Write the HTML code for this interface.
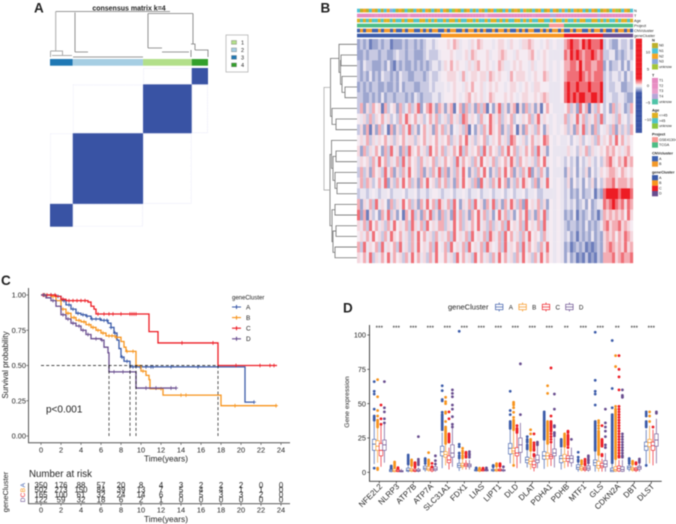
<!DOCTYPE html>
<html>
<head>
<meta charset="utf-8">
<title>Gene cluster analysis figure</title>
<style>
html,body{margin:0;padding:0;background:#fff;}
svg{display:block;font-family:"Liberation Sans",sans-serif;filter:blur(0.4px);}
text{fill:#222;}
</style>
</head>
<body>
<svg id="figure" xmlns="http://www.w3.org/2000/svg" width="676" height="524" viewBox="0 0 676 524">
  <rect width="676" height="524" fill="#fff"/>
  <text x="34" y="12.5" font-size="13.5" font-weight="bold" fill="#000">A</text>
  <text x="320.5" y="12.5" font-size="13.5" font-weight="bold" fill="#000">B</text>
  <text x="1" y="285" font-size="13.5" font-weight="bold" fill="#000">C</text>
  <text x="343" y="312.7" font-size="13.5" font-weight="bold" fill="#000">D</text>

  <g id="panelA">
    <text x="129" y="10.5" font-size="7" font-weight="bold" text-anchor="middle" fill="#333">consensus matrix k=4</text>
    <path fill="none" stroke="#777" stroke-width="0.8" d="M55.7 11.5H170M75 12.5V52M148 13.5H193M148 13.5V48M193 13.5V44M75 52H88M148 48H162M162 52H189M191 44H195V50M195 50H208V57M191 50V57M73 57H143"/>
    <path fill="none" stroke="#aaa" stroke-width="1" d="M55.7 11.5V51M50.5 51H62.5V55.5M50.5 51V57M52 55.5H72"/>
    <g id="consensusBar"></g>
    <g id="consensusCells"></g>
    <g id="consensusLegend"></g>
  </g>

  <g id="panelB">
    <g id="annoRows"></g>
    <g id="heatCells"></g>
    <g id="heatDendro"></g>
    <g id="heatColorbar"></g>
    <g id="heatLegends"></g>
  </g>

  <g id="panelC">
    <g id="kmAxes"></g>
    <g id="kmCurves"></g>
    <g id="kmLegend"></g>
    <text x="46" y="412.5" font-size="10" fill="#222">p&lt;0.001</text>
    <text transform="translate(8,365) rotate(-90)" font-size="8" text-anchor="middle" fill="#222">Survival probability</text>
    <text x="166" y="461.5" font-size="8.3" text-anchor="middle" fill="#222">Time(years)</text>
    <text x="29" y="477" font-size="9.7" fill="#222">Number at risk</text>
    <text transform="translate(8,492) rotate(-90)" font-size="7.5" text-anchor="middle" fill="#222">geneCluster</text>
    <text x="166" y="522" font-size="8.3" text-anchor="middle" fill="#222">Time(years)</text>
    <g id="riskTable"></g>
  </g>

  <g id="panelD">
    <g id="boxAxes"></g>
    <g id="boxMarks"></g>
    <g id="boxLegend"></g>
    <text transform="translate(349,402) rotate(-90)" font-size="6.8" text-anchor="middle" fill="#222">Gene expression</text>
    <text x="448" y="309.5" font-size="7.5" fill="#333">geneCluster</text>
  </g>
</svg>

<script>
/* ---------- shared ---------- */
const clusterNames = ['A', 'B', 'C', 'D'];
const clusterColors = ['#3b5ba9', '#f7941d', '#ed1c24', '#694e8f'];

/* ---------- panel A data ---------- */
const consensusSizes = [144, 445, 308, 103];
const consensusColors = ['#1f78b4', '#a6cee3', '#b2df8a', '#33a02c'];
const consensusLegendOrder = [2, 1, 0, 3];
const consensusLegendLabels = ['1', '2', '3', '4'];

/* ---------- panel B data: one digit per sample, 0 = low, 9 = high ---------- */
const heatRowsA = [
"2323122323312223233232344345","2232333233223433233222343334","3243322232421323223232323443",
"3232423243323243322333234334","2323233223223242333223334344","3322323242332333232432333443",
"3726375617356273473682578627","5463736574635374865746357473","3627162735172637483625746274",
"5647364657463657466365746574","6273647527384627386574638574","4656374857364738475637465736",
"3736275638472637485637263748","4737635748263748573627485637","3443454344534445344534434554",
"7264738465273648573627485738","8271635274836251748362748362","6473857463748564738647385647",
"5647485637486574637485746374","7384657384657384637485647385","6574836475847563748574637485"];
const heatRowsB = [
"556576455465765554566546554667655456","555654456476555645567655465556754565","465756554646755654576445656554645565",
"556665474566566476565547566654565576","454565546575564565655456654565466555","455565456756564576555656545665565676",
"626715727362737152683626716273626157","463746387465374586473657354657368465","736254637152637486572637516274637526",
"657364758463657346574638754635746587","736475837465738475637485736475738462","475638475637485647365748637564637584",
"372637485263748526374857263748263742","473627485637284637485726374865372648","344534454344534453445345344534453344",
"647385264738562748362748637285647362","736284736275847362584736257483627483","736485736475846373647385647385647384",
"647385647385647386473857463748565374","473856473856473865473846573847563748","574638574638574637485746374856374857"];
const heatRowsPale = ["4544","4444","4545","4545","4445","4445","5444","4544","4545","5454","5444","5454","5444","5454","4454","5454","5454","5454","5454","5454","5454"];
const heatRowsC = [
"7898879898889","8798987889878","7788797887788","7888898787888","8988988898889","8989899889989",
"5736284716375","7364847364738","6362748362735","4535463546374","4645364736456","3534253464353",
"2635243625346","3625342536253","3423242334132","3434234252344","2324132342313","3233232423234",
"3423132324232","2312323121232","2423121312132"];
const heatRowsD = [
"3432243342","3344232343","2423342424","3434434243","3433442233","3443344322",
"3527364237","3546374536","4637263637","6574857465","5767564675","6786576867",
"5677657656","6778677767","8999989998","8789878687","7676767586","7867786765",
"6767576876","6787676867","7778678778"];
const colorbarTicks = [10, 5, 0, -5, -10];
const rowTree = [33,
  [26.5, [18, 0, [16.5, [16, 1, 2], [15, 3, [12, 4, 5]]]], [25, 6, [21, 7, 8]]],
  [27, [25.5, 9, [24, [21, 10, 11], [22, 12, [20, 13, 14]]]], [25, [22, 15, 16], [24, [21, 17, 18], [22, 19, 20]]]]];
const annotationNames = ['N', 'T', 'Age', 'Project', 'CNVcluster', 'geneCluster'];
const annotationCodes = [
"102012010123102014012012010212014201021012010214012102012401021021201210120210120102012401201",
"000000100000000002000000000000010000000000020000000000000001000003300000000000000300000000000",
"010101101001011010011001010110100101100101101001010110010101100110100101101001100101011010010",
"00000000000000000000000000000000000000000000000000000000000000001111100000000000000000000000",
"01011001011010010110010101100101100101101010010110100101011001010110100101100101101001011010",
"00000000000000000000000000001111111111111111111111111111111111111111122222222222223333333333"];
const annotationPalette = [
  ['#bdb02a', '#4cc3d9', '#f5a623', '#8aa8dc', '#a4c639'],
  ['#e58ac0', '#e88fc4', '#e8a0cc', '#b7a6d8', '#4fc3a8'],
  ['#e0b020', '#4fc3c8', '#8cc63f'],
  ['#4dbd85', '#f89a96'],
  ['#3f63b0', '#f39a2a'],
  ['#3b5ba9', '#f7941d', '#ed1c24', '#694e8f']];
const heatLegendLabels = [
  ['N0', 'N1', 'N2', 'N3', 'unknow'],
  ['T1', 'T2', 'T3', 'T4', 'unknow'],
  ['<=45', '>45', 'unknow'],
  ['GSE41304', 'TCGA'],
  ['A', 'B'],
  ['A', 'B', 'C', 'D']];
const heatLegendColors = [
  ['#bdb02a', '#4cc3d9', '#f5a623', '#8aa8dc', '#a4c639'],
  ['#e58ac0', '#e88fc4', '#e8a0cc', '#b7a6d8', '#4fc3a8'],
  ['#e0b020', '#4fc3c8', '#8cc63f'],
  ['#f89a96', '#4dbd85'],
  ['#3f63b0', '#f39a2a'],
  ['#3b5ba9', '#f7941d', '#ed1c24', '#694e8f']];

/* ---------- panel C data ---------- */
const kmTimeTicks = [0, 2, 4, 6, 8, 10, 12, 14, 16, 18, 20, 22, 24];
const kmSurvTicks = [0, 0.25, 0.5, 0.75, 1];
const kmSurvTickLabels = ['0.00', '0.25', '0.50', '0.75', '1.00'];
const kmTimesA = [0, 1.5, 2, 2.5, 3, 3.5, 4, 4.5, 5, 6, 6.7, 7, 7.3, 7.6, 7.8, 8, 8.3, 8.9, 20.4, 21.3];
const kmSurvA = [1, 0.99, 0.96, 0.93, 0.9, 0.87, 0.86, 0.85, 0.83, 0.82, 0.8, 0.77, 0.73, 0.68, 0.62, 0.56, 0.53, 0.49, 0.24, 0.24];
const kmTimesB = [0, 1, 1.5, 2, 2.5, 3, 3.5, 4, 4.5, 5, 5.5, 6, 6.5, 7.5, 8, 8.3, 8.5, 9.5, 10, 10.5, 10.8, 10.9, 12.2, 18, 23.6];
const kmSurvB = [1, 0.99, 0.96, 0.9, 0.87, 0.84, 0.82, 0.81, 0.79, 0.77, 0.75, 0.73, 0.71, 0.7, 0.67, 0.63, 0.6, 0.5, 0.46, 0.43, 0.4, 0.335, 0.29, 0.215, 0.215];
const kmTimesC = [0, 1.5, 2, 2.5, 4.7, 5, 5.3, 5.5, 10.8, 11.7, 17.7, 23.6];
const kmSurvC = [1, 0.99, 0.97, 0.96, 0.95, 0.92, 0.9, 0.865, 0.74, 0.66, 0.5, 0.5];
const kmTimesD = [0, 0.5, 1, 1.5, 2, 2.5, 3, 3.5, 4, 4.5, 5, 6, 6.3, 6.7, 6.8, 9.5, 13.5];
const kmSurvD = [1, 0.98, 0.96, 0.92, 0.86, 0.83, 0.8, 0.78, 0.75, 0.72, 0.69, 0.68, 0.63, 0.59, 0.455, 0.34, 0.34];
const kmCensorA = [0.3, 1, 1.7, 2.3, 2.8, 3.2, 3.7, 4.2, 4.6, 5.1, 5.5, 5.9, 6.3, 6.6, 7, 7.4, 8.1, 8.6, 9.2, 9.9, 10.5, 11, 11.2, 13, 15.7, 21.3];
const kmCensorB = [0.4, 1.2, 2.2, 2.7, 3.3, 3.8, 4.3, 4.8, 5.2, 5.7, 6.2, 6.8, 7.1, 7.5, 8.6, 9.2, 10.2, 12, 14, 14.5, 19.4, 23.5];
const kmCensorC = [0.2, 0.6, 1, 1.4, 2.2, 2.8, 3.2, 3.6, 4, 4.4, 5.7, 6.3, 6.8, 7.2, 8, 8.9, 9.1, 9.3, 9.5, 14.1, 17.2, 19.5, 21.9, 22.9, 23.3];
const kmCensorD = [0.3, 1.2, 2.2, 2.7, 3.2, 3.8, 4.2, 4.7, 5.5, 6.1, 7.3, 8.2, 8.9, 10.5, 11.5, 13, 13.5];
const kmMedians = [6.8, 8.9, 9.5, 17.7];
const riskA = [350, 176, 88, 57, 20, 8, 4, 3, 2, 2, 2, 0, 0];
const riskB = [502, 273, 150, 84, 39, 13, 7, 5, 4, 4, 1, 1, 0];
const riskC = [165, 100, 61, 32, 24, 14, 6, 6, 5, 3, 3, 2, 0];
const riskD = [122, 59, 32, 18, 6, 2, 1, 0, 0, 0, 0, 0, 0];

/* ---------- panel D data ---------- */
const geneNames = ['NFE2L2', 'NLRP3', 'ATP7B', 'ATP7A', 'SLC31A1', 'FDX1', 'LIAS', 'LIPT1', 'DLD', 'DLAT', 'PDHA1', 'PDHB', 'MTF1', 'GLS', 'CDKN2A', 'DBT', 'DLST'];
const geneSignificance = ['***', '***', '***', '***', '***', '***', '***', '***', '***', '***', '***', '**', '***', '***', '**', '***', '***'];
const boxTicks = [0, 25, 50, 75, 100];
const boxQ1 = [[16, 16, 12, 16], [0.5, 0.5, 0.5, 0.3], [0.8, 0.8, 0.7, 0.8], [2, 1.5, 1, 1.5], [12, 11, 7, 11], [3.5, 4, 4.5, 4], [1, 0.8, 1, 1], [1, 1, 1, 1], [13.3, 14, 12, 14.5], [7, 6, 3.5, 7], [9.5, 9.7, 10, 12], [7, 8, 8, 7], [2.2, 1.7, 1.5, 1.7], [5, 3, 3.5, 4], [0.5, 1, 1, 0.7], [2.2, 1.5, 1.2, 2.2], [16, 18.7, 16, 19]];
const boxMedian = [[20.5, 19, 16, 20], [1.2, 1.2, 1, 0.8], [1.5, 1.5, 1.2, 1.2], [3, 2.5, 2, 2.5], [15, 13, 9, 14], [5, 5, 5.5, 5], [1.5, 1.3, 1.5, 1.4], [1.5, 1.5, 1.6, 1.3], [17.5, 15.5, 14, 20], [9, 8, 5.5, 9], [12, 12, 11.4, 14], [10, 10, 10, 10], [3.6, 2.7, 2.4, 3], [7, 5, 4.6, 6], [1.5, 2, 2.7, 2], [3.4, 2.4, 2, 3.4], [19, 21.6, 19.4, 23.5]];
const boxQ3 = [[24, 23, 21, 23.5], [2, 2.5, 1.8, 1.2], [3, 2.5, 2.2, 2.2], [4.5, 4, 3, 4], [19, 15, 12, 20], [6.5, 6.5, 6.5, 6], [2, 1.8, 2, 1.9], [2.2, 2.2, 2.4, 1.8], [21, 17.5, 18, 25], [11, 10, 8, 12.5], [15, 14, 12.6, 17], [12, 13, 12, 12], [5.5, 4, 3.4, 4.6], [9, 8, 6.5, 8.5], [3, 4, 4.6, 4], [4.6, 3.4, 3, 4.4], [22, 24, 22, 28]];
const boxLow = [[6, 7, 4, 7], [0, 0, 0, 0], [0, 0, 0, 0], [0.5, 0.5, 0, 0.5], [3, 5, 2, 4], [1, 2, 2, 2], [0.5, 0, 0.5, 0.5], [0.3, 0.3, 0.5, 0.3], [6.5, 5, 3, 6.5], [3.5, 2, 0.7, 3], [2.5, 4, 4.6, 3.5], [2, 3, 4, 4], [0.5, 0.7, 0.5, 0.5], [0.5, 0.5, 0.5, 0.5], [0.5, 0.2, 0.2, 0.2], [0.7, 0.5, 0.2, 0.5], [5, 6.5, 5, 6.5]];
const boxHigh = [[40, 35, 35, 35], [4, 5, 3.5, 2.5], [5.5, 4.5, 3.5, 3.5], [7, 6, 4.5, 6], [29, 21, 18, 32], [10, 10, 9, 9], [2.8, 2.5, 2.5, 2.5], [3.5, 3.5, 3.8, 2.8], [31, 30, 28, 36], [16, 15, 11.5, 19], [23, 20, 21, 25], [17.5, 18.7, 16, 18], [10, 6, 5, 9], [15, 12, 10, 14], [6, 9, 9, 9], [6, 5, 4, 6.5], [31, 34, 31, 39]];
const boxOutliers = [
  [[66, 59, 57, 46, 41, 40, 39, 38, 3], [67.5, 55, 45, 41, 38, 37, 36, 35, 34, 33, 3, 2], [49, 39, 35], [66, 47, 44, 39, 36]],
  [[4.6, 3.8, 3, 2.5], [7.5, 6.5, 5.5, 4.5, 3.5], [3.4, 2.5], []],
  [[12.6, 11.5, 10.3, 9, 8, 6.8, 6], [9, 8, 6.8, 5.5, 5], [7, 6, 5, 3.8], [26, 9.5, 8, 6.8, 5.5]],
  [[10, 9, 8, 6.5], [14.3, 9, 8, 6.8, 5.5], [6.5, 4], [12, 8.5, 6]],
  [[63, 59.5, 53, 52, 43.7, 42, 41, 40, 39, 38, 37, 36, 35, 34, 33, 32, 31], [54.6, 51.5, 50, 44, 43, 37, 33, 32, 31, 30, 29, 28, 27, 26, 25, 24, 23, 22, 21], [44, 39, 28, 27, 26, 25, 24, 23, 22], [60, 57.5, 55, 49, 46, 40.5, 35, 33]],
  [[102.7, 20.4, 18.7, 14, 12, 10.5], [17.5, 15.5, 14, 12, 10.5], [14.6, 13.5, 12, 11], [15, 13.5, 12.5, 11]],
  [[2.9, 3.2], [3, 2.7], [2.7, 3], [3.2, 2.8]],
  [[5, 4.5, 4], [6.3, 5.5, 5, 4.5], [6.3, 5.5, 5, 4.5], [4]],
  [[59, 45, 42, 37, 36, 35, 34, 33, 32], [51, 50, 49, 47, 43.7, 40, 38, 37, 36, 35, 34, 33, 32, 31, 5], [34, 32, 31, 30, 29], [79, 42]],
  [[26, 24, 23, 22, 20, 19, 18, 17], [31, 28, 24, 23, 22, 21, 20, 19, 18, 17, 16], [28, 21.5, 20, 18.5, 17, 16, 13, 12], [22, 21, 20]],
  [[44, 43, 42, 41, 40, 39, 38, 37, 36, 35, 34, 33, 32, 31, 30, 29, 28, 27, 26, 25, 24], [63, 57.5, 37, 36, 35, 34, 33, 32, 31, 30, 29, 28, 27, 26, 25, 24, 23, 22, 21], [76, 41, 37, 36, 35, 34, 33, 32, 31, 30, 28, 26, 24, 22], [57, 46, 34, 33, 29, 28, 26.5]],
  [[24, 23, 22, 21, 20, 19], [28, 27, 26, 25, 24, 23, 22, 21, 20, 19], [30, 29, 27, 26, 25, 24, 23, 22, 21, 20, 18], [24]],
  [[14.6, 11, 9, 8], [8.5, 7.3, 6], [9.5, 8, 6.5, 5.5], [12, 11, 9.5, 8.5, 7]],
  [[102, 67, 59, 57, 49, 37, 36, 35, 34, 33, 32, 31, 30, 29, 28, 27, 26, 25, 24, 23, 22, 21, 20, 19, 18, 17, 16], [37.6, 36, 34, 32, 30, 29, 28, 27, 26, 25, 24, 23, 22, 21, 20, 19, 18, 17, 16, 15, 14, 13], [34, 24, 23, 22, 21, 20, 19, 13, 12], [46, 36, 33, 30, 26, 20, 18]],
  [[96, 61, 47, 42, 41, 40, 39, 38, 37, 36, 35, 34, 33, 32, 31, 30, 29, 28, 27, 26, 25, 24, 23, 22, 21, 20, 19, 18, 17, 16, 15, 14, 13, 12, 11, 10, 9, 8, 7], [85, 77, 48, 46, 45, 44, 43, 42, 41, 40, 39, 38, 37, 36, 35, 34, 33, 32, 31, 30, 29, 28, 27, 26, 25, 24, 23, 22, 21, 20, 19, 18, 17, 16, 15, 14, 13, 12, 11, 10], [85, 75, 69.5, 60, 48, 46, 44, 42, 40, 38, 36, 34, 32, 30, 28, 26, 24, 22, 20, 18, 16, 14, 12, 11], [60, 56, 55, 54.6, 28, 26, 24, 22, 20, 18, 16, 14, 12, 11]],
  [[10, 9, 8, 6.5], [8, 7, 6], [7, 6], [9.7, 8.5, 7.3]],
  [[44, 42.5, 41, 37, 36, 35, 34, 33, 5], [44, 41, 37], [33], [44, 43]]];

/* ---------- helpers ---------- */
const NS = 'http://www.w3.org/2000/svg';
function mk(tag, parent, attrs, text) {
  const e = document.createElementNS(NS, tag);
  for (const k in attrs) e.setAttribute(k, attrs[k]);
  if (text !== undefined) e.textContent = text;
  parent.appendChild(e);
  return e;
}
const $ = id => document.getElementById(id);

/* ---------- panel A ---------- */
const matLeft = 50, matWidth = 158, matTop = 68, matHeight = 158.7;
const totalSamples = consensusSizes.reduce((a, b) => a + b, 0);
const matX = n => matLeft + matWidth * n / totalSamples;
const matY = n => matTop + matHeight * (1 - n / totalSamples);
let cum = 0;
consensusSizes.forEach((n, i) => {
  const bar = mk('rect', $('consensusBar'), {x: matX(cum), y: 59, width: matX(n) - matLeft, height: 6.7, fill: consensusColors[i]});
  
  
  const cell = mk('rect', $('consensusCells'), {x: matX(cum), y: matY(cum + n), width: matX(n) - matLeft, height: matHeight * n / totalSamples, fill: '#3953a4'});
  
  
  const next = i < 3 ? i + 1 : null;
  if (next !== null) {
    /* faint low-consensus band next to each block */
    const n2 = consensusSizes[next];
    const band = mk('rect', $('consensusCells'), {x: matX(cum + n) + 0.5, y: matY(cum + n) + 0.5, width: matX(n2) - matLeft - 1, height: matHeight * n / totalSamples - 1, fill: 'none', stroke: '#e6e6f7', 'stroke-width': 0.7, 'stroke-dasharray': '1 0.6'});
    
    
  }
  if (i > 0) {
    const prevN = consensusSizes[i - 1];
    const band2 = mk('rect', $('consensusCells'), {x: matX(cum - prevN) + 0.5, y: matY(cum + n) + 0.5, width: matX(prevN) - matLeft - 1, height: matHeight * n / totalSamples - 1, fill: 'none', stroke: '#eaeaf8', 'stroke-width': 0.7, 'stroke-dasharray': '1 0.6'});
    
    
  }
  cum += n;
});
const legBox = mk('rect', $('consensusLegend'), {x: 226, y: 35, width: 22, height: 37, fill: '#fff', stroke: '#aaa', 'stroke-width': 0.7});


consensusLegendLabels.forEach((lab, i) => {
  const colorIndex = consensusLegendOrder[i];
  const y = 40.5 + i * 7.5;
  const sw = mk('rect', $('consensusLegend'), {x: 231.5, y: y, width: 5, height: 3.8, fill: consensusColors[colorIndex], stroke: '#777', 'stroke-width': 0.4});
  
  
  const t = mk('text', $('consensusLegend'), {x: 241, y: y + 4, 'font-size': 5.5}, lab);
  
  
});

/* ---------- panel B ---------- */
const heatTop = 39, heatRowH = 10.67;
const heatGroups = [
  {rows: heatRowsA, x0: 357, x1: 441},
  {rows: heatRowsB, x0: 441, x1: 549},
  {rows: heatRowsPale, x0: 549, x1: 564},
  {rows: heatRowsC, x0: 564, x1: 603},
  {rows: heatRowsD, x0: 603, x1: 633}];
const heatClip = 2.2;
function mixColor(base, target, t) {
  const c = target.map((k, i) => Math.round(base[i] + (k - base[i]) * t));
  return 'rgb(' + c.join(',') + ')';
}
function heatColor(v) {
  const t = Math.min(1, Math.abs(v) / heatClip);
  return mixColor([255, 255, 255], v < 0 ? [57, 83, 164] : [237, 28, 36], t);
}
function cellColor(d) {
  const u = d - 4.5;
  const t = u < 0 ? Math.pow(-u / 4.5, 1.3) : Math.pow(u / 4.5, 2);
  return mixColor([245, 238, 245], u < 0 ? [57, 83, 164] : [237, 28, 36], t);
}
heatGroups.forEach(g => {
  g.rows.forEach((row, r) => {
    const w = (g.x1 - g.x0) / row.length;
    for (let c = 0; c < row.length; c++) {
      const cell = mk('rect', $('heatCells'), {x: g.x0 + c * w, y: heatTop + r * heatRowH, width: w + 0.15, height: heatRowH + 0.1, fill: cellColor(+row[c])});
      
      
    }
  });
});
annotationCodes.forEach((codes, r) => {
  const y = 8.7 + r * 5;
  const w = 276 / codes.length;
  for (let c = 0; c < codes.length; c++) {
    const a = mk('rect', $('annoRows'), {x: 357 + c * w, y: y, width: w + 0.1, height: 3.7, fill: annotationPalette[r][+codes[c]]});
    
    
  }
  const lab = mk('text', $('annoRows'), {x: 634, y: y + 3.2, 'font-size': 3.9, fill: '#333'}, annotationNames[r]);
  
  
});
/* row dendrogram */
const dendX = h => 357 - h;
const rowCentre = r => heatTop + heatRowH * (r + 0.5);
function drawTree(node) {
  if (typeof node === 'number') return {x: 357, y: rowCentre(node)};
  const a = drawTree(node[1]), b = drawTree(node[2]);
  const x = dendX(node[0]);
  const p = mk('path', $('heatDendro'), {d: 'M' + a.x + ' ' + a.y + 'H' + x + 'V' + b.y + 'H' + b.x, fill: 'none', stroke: node[0] > 30 ? '#aaa' : '#707070', 'stroke-width': 0.8});
  
  
  return {x: x, y: (a.y + b.y) / 2};
}
drawTree(rowTree);
/* colorbar */
const cbarY = v => 85.7 - 3.36 * v;
for (let v = 14; v > -14; v -= 0.5) {
  const s = mk('rect', $('heatColorbar'), {x: 635.7, y: cbarY(v), width: 6.3, height: 1.8, fill: heatColor(v - 0.25)});
  
  
}
colorbarTicks.forEach(v => {
  const t = mk('text', $('heatColorbar'), {x: 648, y: cbarY(v) + 1.5, 'font-size': 4, 'text-anchor': 'middle', fill: '#333'}, v < 0 ? '\u2212' + (-v) : String(v));
  
  
});
/* annotation legends */
let legY = 39;
annotationNames.forEach((name, i) => {
  const title = mk('text', $('heatLegends'), {x: 652, y: legY + 2.6, 'font-size': 3.9, 'font-weight': 'bold', fill: '#222'}, name);
  
  
  legY += 4;
  heatLegendLabels[i].forEach((lab, k) => {
    const sw = mk('rect', $('heatLegends'), {x: 652, y: legY, width: 6, height: 5.3, fill: heatLegendColors[i][k]});
    
    
    const t = mk('text', $('heatLegends'), {x: 659, y: legY + 3.7, 'font-size': 3.7, fill: '#333'}, lab);
    
    
    legY += 5.3;
  });
  legY += 4.4;
});

/* ---------- panel C ---------- */
const kmX = t => 41 + 10 * t;
const kmY = s => 436 - 141 * s;
const kmSeries = [
  {times: kmTimesA, surv: kmSurvA, censor: kmCensorA, risk: riskA},
  {times: kmTimesB, surv: kmSurvB, censor: kmCensorB, risk: riskB},
  {times: kmTimesC, surv: kmSurvC, censor: kmCensorC, risk: riskC},
  {times: kmTimesD, surv: kmSurvD, censor: kmCensorD, risk: riskD}];
const kmAxisPath = mk('path', $('kmAxes'), {d: 'M28.5 288V442.7H290', fill: 'none', stroke: '#555', 'stroke-width': 1});


kmTimeTicks.forEach(t => {
  const tick = mk('line', $('kmAxes'), {x1: kmX(t), x2: kmX(t), y1: 442.7, y2: 445, stroke: '#555', 'stroke-width': 0.7});
  
  
  const lab = mk('text', $('kmAxes'), {x: kmX(t), y: 452.3, 'font-size': 7.4, 'text-anchor': 'middle', fill: '#333'}, String(t));
  
  
});
kmSurvTicks.forEach((s, i) => {
  const tick = mk('line', $('kmAxes'), {x1: 26.2, x2: 28.5, y1: kmY(s), y2: kmY(s), stroke: '#555', 'stroke-width': 0.7});
  
  
  const lab = mk('text', $('kmAxes'), {x: 26, y: kmY(s) + 2.6, 'font-size': 7.4, 'text-anchor': 'end', fill: '#333'}, kmSurvTickLabels[i]);
  
  
});
function stepPath(times, surv) {
  let d = 'M' + kmX(times[0]) + ' ' + kmY(surv[0]);
  for (let i = 1; i < times.length; i++) d += 'H' + kmX(times[i]) + 'V' + kmY(surv[i]);
  return d;
}
function survivalAt(series, t) {
  let s = series.surv[0];
  for (let i = 0; i < series.times.length; i++) if (series.times[i] <= t) s = series.surv[i];
  return s;
}
kmSeries.forEach((sr, i) => {
  const curve = mk('path', $('kmCurves'), {d: stepPath(sr.times, sr.surv), fill: 'none', stroke: clusterColors[i], 'stroke-width': 1.3});
  
  
  sr.censor.forEach(t => {
    const x = kmX(t), y = kmY(survivalAt(sr, t));
    const m = mk('path', $('kmCurves'), {d: 'M' + (x - 1.9) + ' ' + y + 'H' + (x + 1.9) + 'M' + x + ' ' + (y - 1.9) + 'V' + (y + 1.9), stroke: clusterColors[i], 'stroke-width': 0.8, fill: 'none'});
    
    
  });
});
const medianLine = mk('line', $('kmCurves'), {x1: kmX(0), x2: kmX(17.7), y1: kmY(0.5), y2: kmY(0.5), stroke: '#111', 'stroke-width': 0.7, 'stroke-dasharray': '3 2.2'});


kmMedians.forEach(t => {
  const l = mk('line', $('kmCurves'), {x1: kmX(t), x2: kmX(t), y1: kmY(0.5), y2: kmY(0), stroke: '#111', 'stroke-width': 0.7, 'stroke-dasharray': '3 2.2'});
  
  
});
const kmLegTitle = mk('text', $('kmLegend'), {x: 232, y: 299.5, 'font-size': 6, fill: '#222'}, 'geneCluster');


clusterNames.forEach((nm, i) => {
  const y = 307 + i * 10.6;
  const k = mk('path', $('kmLegend'), {d: 'M232 ' + y + 'H241M236.5 ' + (y - 2) + 'V' + (y + 2), stroke: clusterColors[i], 'stroke-width': 1.1, fill: 'none'});
  
  
  const t = mk('text', $('kmLegend'), {x: 246, y: y + 2.4, 'font-size': 6.5, fill: '#222'}, nm);
  
  
});
/* risk table */
const riskAxis = mk('path', $('riskTable'), {d: 'M28.5 483V503.7H290', fill: 'none', stroke: '#444', 'stroke-width': 0.9});


kmTimeTicks.forEach(t => {
  const tick = mk('line', $('riskTable'), {x1: kmX(t), x2: kmX(t), y1: 503.7, y2: 505.7, stroke: '#444', 'stroke-width': 0.7});
  
  
  const lab = mk('text', $('riskTable'), {x: kmX(t), y: 512.3, 'font-size': 7.4, 'text-anchor': 'middle', fill: '#333'}, String(t));
  
  
});
kmSeries.forEach((sr, r) => {
  const y = 487.8 + r * 4.9;
  const letter = mk('text', $('riskTable'), {transform: 'translate(25,' + (y - 2.6) + ') rotate(-90)', 'font-size': 6.5, 'text-anchor': 'middle', style: 'fill:' + clusterColors[r]}, clusterNames[r]);
  
  
  sr.risk.forEach((n, i) => {
    const t = mk('text', $('riskTable'), {x: kmX(kmTimeTicks[i]), y: y, 'font-size': 7.8, 'text-anchor': 'middle', fill: '#222'}, String(n));
    
    
  });
});

/* ---------- panel D ---------- */
const catX = g => 379.3 + 17 * g;
const boxX = (g, c) => catX(g) + (c - 1.5) * 3.4;
const boxY = v => 472.3 - 1.373 * v;
const boxAxisPath = mk('path', $('boxAxes'), {d: 'M369.5 325V481.3H661.7', fill: 'none', stroke: '#333', 'stroke-width': 0.9});


boxTicks.forEach(v => {
  const tick = mk('line', $('boxAxes'), {x1: 367.3, x2: 369.5, y1: boxY(v), y2: boxY(v), stroke: '#333', 'stroke-width': 0.7});
  
  
  const lab = mk('text', $('boxAxes'), {x: 366, y: boxY(v) + 2.6, 'font-size': 7.3, 'text-anchor': 'end', fill: '#444'}, String(v));
  
  
});
geneNames.forEach((gene, g) => {
  const tick = mk('line', $('boxAxes'), {x1: catX(g), x2: catX(g), y1: 481.3, y2: 483.5, stroke: '#333', 'stroke-width': 0.7});
  
  
  const lab = mk('text', $('boxAxes'), {transform: 'translate(' + (catX(g) + 3.5) + ',487) rotate(-45)', 'font-size': 8, 'text-anchor': 'end', fill: '#333'}, gene);
  
  
  const star = mk('text', $('boxAxes'), {x: catX(g), y: 330, 'font-size': 6.5, 'text-anchor': 'middle', fill: '#333'}, geneSignificance[g]);
  
  
  clusterNames.forEach((nm, c) => {
    const x = boxX(g, c), col = clusterColors[c];
    const whisk = mk('line', $('boxMarks'), {x1: x, x2: x, y1: boxY(boxHigh[g][c]), y2: boxY(boxLow[g][c]), stroke: col, 'stroke-width': 0.9, 'stroke-opacity': 0.75});
    
    
    boxOutliers[g][c].forEach(v => {
      const dot = mk('circle', $('boxMarks'), {cx: x, cy: boxY(v), r: 1.4, fill: col});
      
      
    });
    const rect = mk('rect', $('boxMarks'), {x: x - 1.8, y: boxY(boxQ3[g][c]), width: 3.6, height: boxY(boxQ1[g][c]) - boxY(boxQ3[g][c]), fill: '#fff', stroke: col, 'stroke-width': 0.6});
    
    
    const med = mk('line', $('boxMarks'), {x1: x - 1.8, x2: x + 1.8, y1: boxY(boxMedian[g][c]), y2: boxY(boxMedian[g][c]), stroke: col, 'stroke-width': 0.8});
    
    
  });
});
clusterNames.forEach((nm, c) => {
  const x = 499.2 + c * 23.4;
  const stem = mk('line', $('boxLegend'), {x1: x, x2: x, y1: 302.5, y2: 311.5, stroke: clusterColors[c], 'stroke-width': 0.7});
  
  
  const key = mk('rect', $('boxLegend'), {x: x - 3.7, y: 304.3, width: 7.4, height: 5.4, fill: '#fff', stroke: clusterColors[c], 'stroke-width': 0.7});
  
  
  const mid = mk('line', $('boxLegend'), {x1: x - 3.7, x2: x + 3.7, y1: 307, y2: 307, stroke: clusterColors[c], 'stroke-width': 0.7});
  
  
  const t = mk('text', $('boxLegend'), {x: x + 9.5, y: 309.3, 'font-size': 6.3, fill: '#333'}, nm);
  
  
});
</script>
</body>
</html>
